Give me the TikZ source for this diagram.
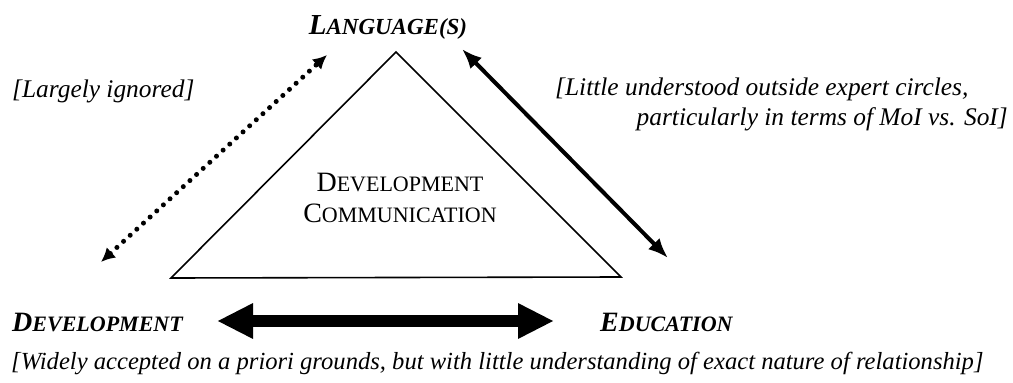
\documentclass[tikz,border=0pt]{standalone}
\usepackage{fontspec}
\setmainfont{Liberation Serif}
\usetikzlibrary{arrows.meta}
\newcommand\fakesc[4]{{\fontsize{#1}{#1}\selectfont#2}{\fontsize{#3}{#3}\selectfont#4}}
\tikzset{
  lbl/.style={inner sep=0pt, font=\fontsize{25.4}{29}\selectfont\itshape},
  widelbl/.style={inner sep=0pt, font=\fontsize{24.6}{29}\selectfont\itshape},
  cornerlbl/.style={inner sep=0pt, font=\bfseries\itshape},
  tri/.style={line width=1.6pt, line join=miter},
  dotarrow/.style={line width=5pt, line cap=round, dash pattern=on 0pt off 9pt,
     {Latex[length=14pt,width=14pt]}-{Latex[length=14pt,width=14pt]}},
  thinarrow/.style={line width=4pt, {Latex[length=20pt,width=16pt]}-{Latex[length=20pt,width=16pt]}},
  fatarrow/.style={line width=12pt, {Triangle[length=36pt,width=33pt]}-{Triangle[length=36pt,width=33pt]}}
}
\begin{document}
\begin{tikzpicture}[x=1pt,y=-1pt]
\useasboundingbox (0,0) rectangle (1013,383);
% triangle
\coordinate (top) at (396,52);
\coordinate (bl) at (171,278);
\coordinate (br) at (621,277);
\draw[tri] (top) -- (bl) -- (br) -- cycle;
% labels
\node[cornerlbl, anchor=base] (lang) at (388,34) {\fakesc{29pt}{L}{23pt}{ANGUAGE(S)}};
\node[cornerlbl, anchor=base west] (dev) at (12,331) {\fakesc{28pt}{D}{22pt}{EVELOPMENT}};
\node[cornerlbl, anchor=base west] (edu) at (600,331) {\fakesc{28pt}{E}{22pt}{DUCATION}};
\node[inner sep=0pt, anchor=base] (dc) at (400,191)
  {\fakesc{28pt}{D}{22pt}{EVELOPMENT}};
\node[inner sep=0pt, anchor=base] (cc) at (400,222)
  {\fakesc{28pt}{C}{22pt}{OMMUNICATION}};
\node[lbl, anchor=base west] (ign) at (12,97) {[Largely ignored]};
\node[lbl, anchor=base west] (lit1) at (555,95) {[Little understood outside expert circles,};
\node[lbl, anchor=base east] (lit2) at (1008,125) {particularly in terms of MoI vs. SoI]};
\node[widelbl, anchor=base west] (wid) at (11,369) {[Widely accepted on a priori grounds, but with little understanding of exact nature of relationship]};
% arrows
\coordinate (d1) at (101,262);
\coordinate (d2) at (327,55);
\draw[dotarrow] (d1) -- (d2);
\coordinate (r1) at (462,49);
\coordinate (r2) at (668,258);
\draw[thinarrow] (r1) -- (r2);
\coordinate (b1) at (217,321);
\coordinate (b2) at (554,321);
\draw[fatarrow] (b1) -- (b2);
\end{tikzpicture}
\end{document}
